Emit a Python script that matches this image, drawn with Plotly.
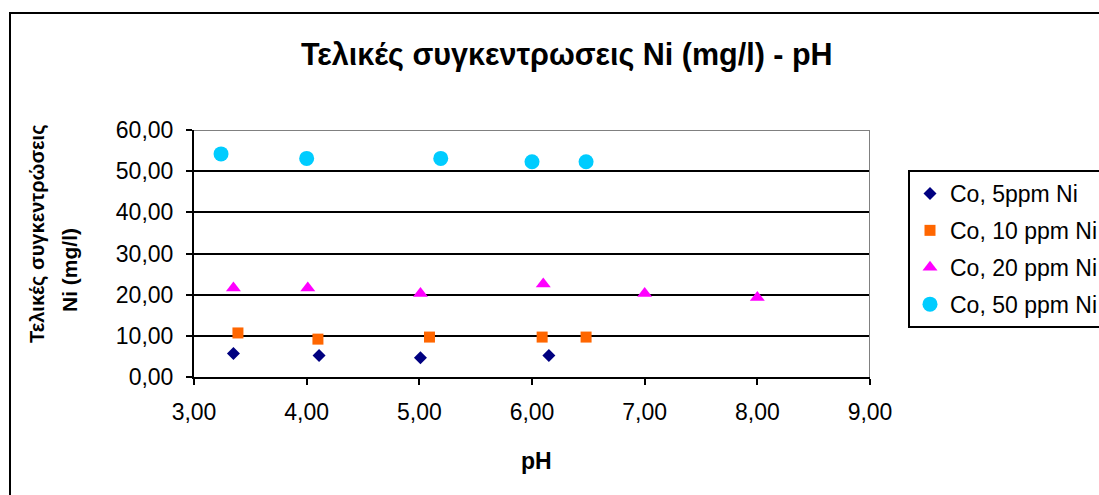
import plotly.graph_objects as go

# Data
ph_5 = [3.35, 4.11, 5.01, 6.15]
ni_5 = [5.7, 5.2, 4.7, 5.2]

ph_10 = [3.39, 4.10, 5.09, 6.09, 6.48]
ni_10 = [10.7, 9.2, 9.7, 9.7, 9.7]

ph_20 = [3.35, 4.01, 5.01, 6.10, 7.00, 8.00]
ni_20 = [21.6, 21.6, 20.3, 22.6, 20.3, 19.3]

ph_50 = [3.24, 4.00, 5.19, 6.00, 6.48]
ni_50 = [54.2, 53.1, 53.1, 52.3, 52.3]

series_names = ["Co, 5ppm Ni", "Co, 10 ppm Ni", "Co, 20 ppm Ni", "Co, 50 ppm Ni"]
x_ticks = [3, 4, 5, 6, 7, 8, 9]
y_ticks = [0, 10, 20, 30, 40, 50, 60]

W, H = 1099, 495
L, R, T, B = 194, 229, 130, 118
PW, PH = W - L - R, H - T - B


def px(xp):
    return (xp - L) / PW


def py(yp):
    return (H - B - yp) / PH


FONT = "Liberation Sans, Arial, sans-serif"

fig = go.Figure()
fig.add_trace(go.Scatter(x=ph_5, y=ni_5, mode="markers", name=series_names[0], legendgroup="a",
                         marker=dict(symbol="diamond", size=10, color="#000080")))
fig.add_trace(go.Scatter(x=ph_10, y=ni_10, mode="markers", name=series_names[1], legendgroup="b",
                         marker=dict(symbol="square", size=11, color="#FF6600")))
fig.add_trace(go.Scatter(x=ph_20, y=ni_20, mode="markers", name=series_names[2], legendgroup="c",
                         marker=dict(symbol="triangle-up", size=13, color="#FF00FF")))
fig.add_trace(go.Scatter(x=ph_50, y=ni_50, mode="markers", name=series_names[3], legendgroup="d",
                         marker=dict(symbol="circle", size=15, color="#00CCFF")))

fig.update_layout(
    width=W, height=H,
    margin=dict(l=L, r=R, t=T, b=B, autoexpand=False),
    paper_bgcolor="white", plot_bgcolor="white",
    separators=",.",
    font=dict(family=FONT, size=22, color="black"),
    showlegend=True,
    legend=dict(x=px(908), y=py(170), xanchor="left", yanchor="top",
                bordercolor="black", borderwidth=2, bgcolor="white",
                font=dict(family=FONT, size=23, color="black"),
                tracegroupgap=4, itemwidth=30),
    xaxis=dict(range=[3, 9], tickvals=x_ticks, tickformat=".2f", showgrid=False, zeroline=False,
               showline=True, linecolor="black", linewidth=2, ticks="outside", ticklen=6,
               tickcolor="black", tickwidth=2, tickfont=dict(size=23), ticklabelstandoff=7),
    yaxis=dict(range=[0, 60], tickvals=y_ticks, tickformat=".2f", showgrid=True, gridcolor="black",
               gridwidth=2, zeroline=False, showline=True, linecolor="black", linewidth=2,
               ticks="outside", ticklen=6, tickcolor="black", tickwidth=2,
               tickfont=dict(size=23), ticklabelstandoff=8),
    shapes=[
        dict(type="line", xref="x", yref="y", x0=3, x1=9, y0=60, y1=60,
             line=dict(color="#808080", width=2), layer="above"),
        dict(type="line", xref="x", yref="y", x0=9, x1=9, y0=0, y1=60,
             line=dict(color="#808080", width=2), layer="above"),
        dict(type="rect", xref="paper", yref="paper", x0=px(10), x1=px(1130), y0=py(530), y1=py(13),
             line=dict(color="black", width=2), fillcolor="rgba(0,0,0,0)", layer="above"),
    ],
    annotations=[
        dict(text="<b>Τελικές συγκεντρωσεις Ni (mg/l) - pH</b>", xref="paper", yref="paper",
             x=px(567), y=py(55), xanchor="center", yanchor="middle", showarrow=False,
             font=dict(family=FONT, size=30.5)),
        dict(text="<b>pH</b>", xref="paper", yref="paper", x=px(536), y=py(461),
             xanchor="center", yanchor="middle", showarrow=False, font=dict(family=FONT, size=23)),
        dict(text="<b>Τελικές συγκεντρώσεις</b>", xref="paper", yref="paper", x=px(37), y=py(234),
             xanchor="center", yanchor="middle", textangle=-90, showarrow=False,
             font=dict(family=FONT, size=20)),
        dict(text="<b>Ni (mg/l)</b>", xref="paper", yref="paper", x=px(69), y=py(270),
             xanchor="center", yanchor="middle", textangle=-90, showarrow=False,
             font=dict(family=FONT, size=21)),
    ],
)

fig.write_html("out.html")
